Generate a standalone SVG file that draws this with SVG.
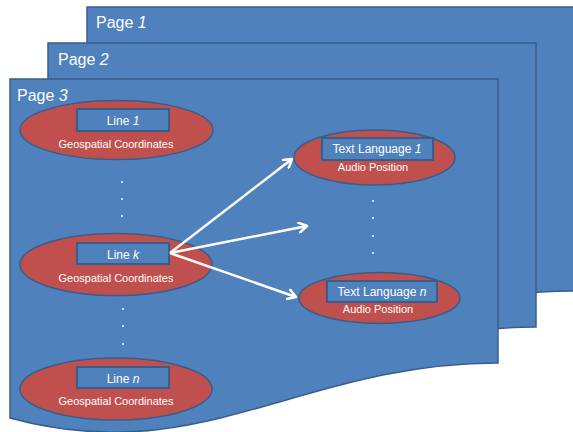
<svg xmlns="http://www.w3.org/2000/svg" width="573" height="432" viewBox="0 0 573 432">
<defs>
<path id="doc" d="M0,0 H488 V284 C290,284 190,391 0,339 Z"/>
<marker id="ah" markerWidth="12" markerHeight="12" refX="9" refY="6" orient="auto" markerUnits="userSpaceOnUse">
<polyline points="1,1 9,6 1,11" fill="none" stroke="#ffffff" stroke-width="2.5" stroke-linecap="round" stroke-linejoin="round"/>
</marker>
</defs>
<style>
.page{fill:#4f81bd;stroke:#385d8a;stroke-width:1.5}
.ell{fill:#c0504d;stroke:#385d8a;stroke-width:1.5}
.box{fill:#4f81bd;stroke:#385d8a;stroke-width:2}
.title{font-family:"Liberation Sans",Arial,sans-serif;font-size:16px;fill:#ffffff}
.t12{font-family:"Liberation Sans",Arial,sans-serif;font-size:12px;fill:#ffffff;text-anchor:middle}
.t11{font-family:"Liberation Sans",Arial,sans-serif;font-size:11px;fill:#ffffff;text-anchor:middle}
.dot{fill:#ffffff}
.conn{stroke:#ffffff;stroke-width:2.5;fill:none;marker-end:url(#ah)}
</style>
<g id="page1">
<use href="#doc" class="page" x="87" y="7"/>
<text class="title" x="96" y="28">Page <tspan font-style="italic">1</tspan></text>
</g>
<g id="page2">
<use href="#doc" class="page" x="48" y="43"/>
<text class="title" x="58" y="65">Page <tspan font-style="italic">2</tspan></text>
</g>
<g id="page3">
<use href="#doc" class="page" x="10" y="79"/>
<text class="title" x="17" y="101">Page <tspan font-style="italic">3</tspan></text>
</g>
<g id="line1">
<ellipse class="ell" cx="116.5" cy="130" rx="96.5" ry="29.5"/>
<rect class="box" x="77" y="109" width="92" height="22"/>
<text class="t12" x="123" y="125">Line <tspan font-style="italic">1</tspan></text>
<text class="t11" x="116" y="148">Geospatial Coordinates</text>
</g>
<g id="dots1">
<circle class="dot" cx="122" cy="182" r="1"/>
<circle class="dot" cx="122" cy="199" r="1"/>
<circle class="dot" cx="122" cy="216" r="1"/>
</g>
<g id="linek">
<ellipse class="ell" cx="116" cy="264.5" rx="96" ry="31"/>
<rect class="box" x="77" y="243" width="92" height="21"/>
<text class="t12" x="123" y="259">Line <tspan font-style="italic">k</tspan></text>
<text class="t11" x="116" y="282">Geospatial Coordinates</text>
</g>
<g id="dots2">
<circle class="dot" cx="123" cy="309" r="1"/>
<circle class="dot" cx="123" cy="326" r="1"/>
<circle class="dot" cx="123" cy="344" r="1"/>
</g>
<g id="linen">
<ellipse class="ell" cx="116" cy="389" rx="96" ry="31"/>
<rect class="box" x="77" y="367" width="92" height="21"/>
<text class="t12" x="123" y="383">Line <tspan font-style="italic">n</tspan></text>
<text class="t11" x="116" y="405">Geospatial Coordinates</text>
</g>
<g id="lang1">
<ellipse class="ell" cx="374.5" cy="157.5" rx="80.5" ry="27.5"/>
<rect class="box" x="322" y="138" width="111" height="22"/>
<text class="t12" x="377" y="153">Text Language <tspan font-style="italic">1</tspan></text>
<text class="t11" x="373" y="171">Audio Position</text>
</g>
<g id="dots3">
<circle class="dot" cx="373" cy="201" r="1"/>
<circle class="dot" cx="373" cy="218" r="1"/>
<circle class="dot" cx="373" cy="236" r="1"/>
<circle class="dot" cx="373" cy="253" r="1"/>
</g>
<g id="langn">
<ellipse class="ell" cx="379.5" cy="298" rx="80.5" ry="25.5"/>
<rect class="box" x="327" y="281" width="110" height="21"/>
<text class="t12" x="382" y="296">Text Language <tspan font-style="italic">n</tspan></text>
<text class="t11" x="378" y="313">Audio Position</text>
</g>
<g id="connectors">
<line class="conn" x1="170" y1="253" x2="292" y2="159"/>
<line class="conn" x1="170" y1="253" x2="307" y2="226"/>
<line class="conn" x1="170" y1="253" x2="296" y2="297"/>
</g>
</svg>
